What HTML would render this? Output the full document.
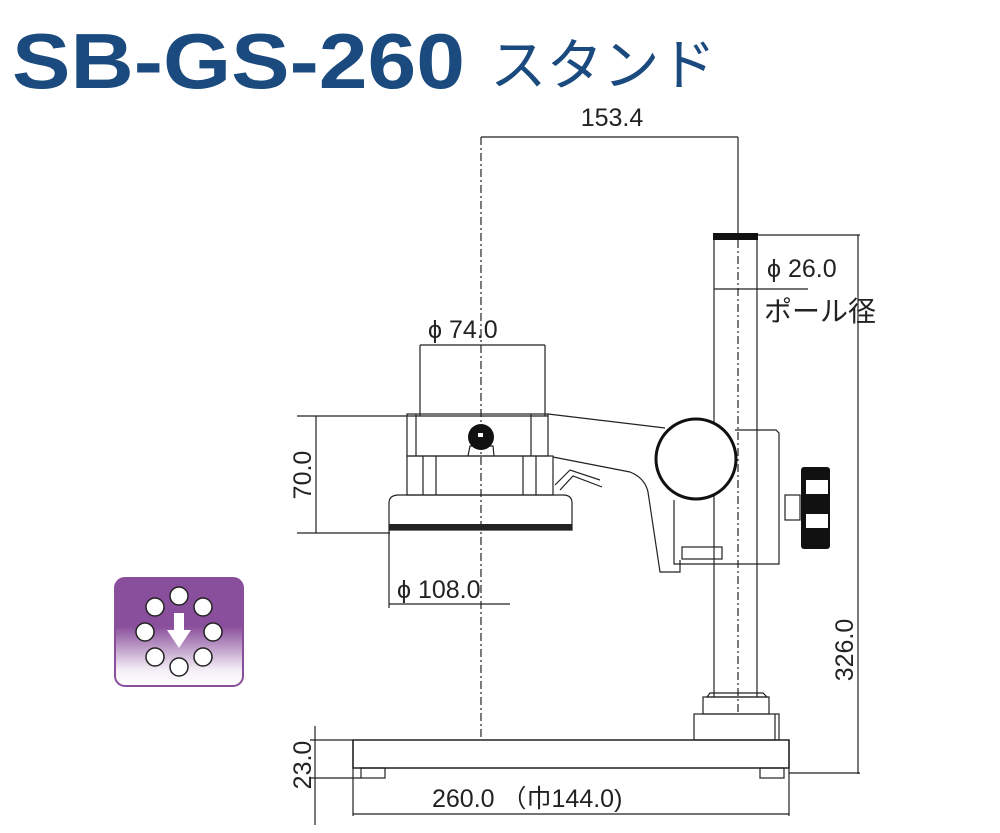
<!DOCTYPE html>
<html><head><meta charset="utf-8"><style>
body{margin:0;background:#fff;}
svg{display:block;}
text{font-family:"Liberation Sans","Noto Sans CJK JP",sans-serif;}
</style></head><body>
<svg width="1000" height="833" viewBox="0 0 1000 833" xmlns="http://www.w3.org/2000/svg">
<defs>
<linearGradient id="g" x1="0" y1="0" x2="0" y2="1">
<stop offset="0" stop-color="#8a4f9c"/><stop offset="0.45" stop-color="#8a4f9c"/><stop offset="0.85" stop-color="#f4eef6"/><stop offset="1" stop-color="#ffffff"/>
</linearGradient>
</defs>
<text x="12" y="88" font-size="78" font-weight="bold" fill="#1a4a7e" textLength="453" lengthAdjust="spacingAndGlyphs">SB-GS-260</text>
<text x="490" y="85" font-size="56" fill="#1a4a7e" textLength="226" lengthAdjust="spacingAndGlyphs">スタンド</text>

<g stroke="#222" stroke-width="1.2" fill="none">
<line x1="481" y1="137" x2="738" y2="137"/>
<line x1="738" y1="137" x2="738" y2="233"/>
<line x1="481" y1="137" x2="481" y2="740" stroke-dasharray="8,3,2,3"/>
<line x1="757" y1="235" x2="860" y2="235"/>
<line x1="858" y1="235" x2="858" y2="774"/>
<line x1="789" y1="773" x2="860" y2="773"/>
<line x1="757" y1="289" x2="808" y2="289"/>
<line x1="714" y1="289" x2="757" y2="289"/>
<line x1="714" y1="233" x2="714" y2="697"/>
<line x1="757" y1="233" x2="757" y2="697"/>
<path d="M707 697 L710 693 L763 693 L767 697 Z"/>
<rect x="703" y="697" width="66" height="17"/>
<rect x="694" y="714" width="85" height="26"/>
<line x1="775" y1="714" x2="775" y2="740"/>
<rect x="353" y="740" width="436" height="28" stroke-width="1.5"/>
<rect x="361" y="768" width="24" height="10"/>
<rect x="760" y="768" width="24" height="10"/>
<line x1="353" y1="740" x2="353" y2="816"/>
<line x1="789" y1="740" x2="789" y2="816"/>
<line x1="353" y1="814" x2="789" y2="814"/>
<line x1="310" y1="740" x2="353" y2="740"/>
<line x1="310" y1="778" x2="361" y2="778"/>
<line x1="315" y1="726" x2="315" y2="825"/>
<line x1="297" y1="416" x2="548" y2="416"/>
<line x1="297" y1="533" x2="390" y2="533"/>
<line x1="316" y1="416" x2="316" y2="533"/>
<line x1="420" y1="345" x2="545" y2="345"/>
<line x1="420" y1="345" x2="420" y2="416"/>
<line x1="545" y1="345" x2="545" y2="416"/>
<line x1="389" y1="530" x2="389" y2="608"/>
<line x1="389" y1="604" x2="510" y2="604"/>
<rect x="407" y="414" width="141" height="42"/>
<line x1="416" y1="414" x2="416" y2="456"/>
<line x1="531" y1="414" x2="531" y2="456"/>
<path d="M468 456 L470 446 L493 446 L494 456"/>
<rect x="407" y="456" width="146" height="39"/>
<line x1="423" y1="456" x2="423" y2="495"/><line x1="436" y1="456" x2="436" y2="495"/>
<line x1="523" y1="456" x2="523" y2="495"/><line x1="536" y1="456" x2="536" y2="495"/>
<path d="M389 530 L389 503 Q389 495 399 495 L563 495 Q572 495 572 503 L572 530 Z"/>
<path d="M555 485 L570 470 L600 480 M560 490 L573 476 L602 487"/>
<path d="M548 414 L665 428"/>
<path d="M553 457 L630 472 Q645 478 648 492 L660 572 L680 572 L680 560"/>
<path d="M735 430 L776 430 L779 433 L779 564 L674 564 L674 500"/>
<rect x="682" y="547" width="40" height="12"/>
<rect x="785" y="495" width="15" height="25"/>
</g>
<circle cx="696" cy="459" r="40" fill="#fff" stroke="#111" stroke-width="3"/>
<circle cx="481" cy="437" r="13" fill="#111"/>
<rect x="478" y="433" width="5" height="4" fill="#fff"/>
<rect x="389" y="524" width="183" height="6" fill="#222"/>
<rect x="713" y="233" width="45" height="7" fill="#111"/>
<rect x="801" y="467" width="29" height="82" rx="3" fill="#111"/>
<rect x="806" y="480" width="22" height="14" fill="#fff"/>
<rect x="806" y="514" width="22" height="14" fill="#fff"/>
<line x1="738" y1="240" x2="738" y2="714" stroke="#222" stroke-width="1.2" stroke-dasharray="8,3,2,3"/>

<g fill="#222" font-size="25">
<text x="612" y="126" text-anchor="middle">153.4</text>
<text x="767" y="277">ϕ 26.0</text>
<text x="764" y="321" font-size="28">ポール径</text>
<text x="428" y="338">ϕ 74.0</text>
<text x="397" y="598">ϕ 108.0</text>
<text x="432" y="807">260.0 （巾144.0)</text>
<text transform="translate(311,475) rotate(-90)" text-anchor="middle">70.0</text>
<text transform="translate(311,765) rotate(-90)" text-anchor="middle">23.0</text>
<text transform="translate(853,650) rotate(-90)" text-anchor="middle">326.0</text>
</g>

<rect x="115" y="578" width="128" height="108" rx="10" fill="url(#g)" stroke="#8a4f9c" stroke-width="2"/>
<g fill="#fff" stroke="#222" stroke-width="1.5">
<circle cx="179" cy="596" r="9"/>
<circle cx="155" cy="607" r="9"/>
<circle cx="203" cy="607" r="9"/>
<circle cx="145" cy="632" r="9"/>
<circle cx="213" cy="632" r="9"/>
<circle cx="155" cy="657" r="9"/>
<circle cx="203" cy="657" r="9"/>
<circle cx="179" cy="667" r="9"/>
</g>
<path d="M174 613 L184 613 L184 630 L191 630 L179 648 L167 630 L174 630 Z" fill="#fff"/>
</svg>
</body></html>
